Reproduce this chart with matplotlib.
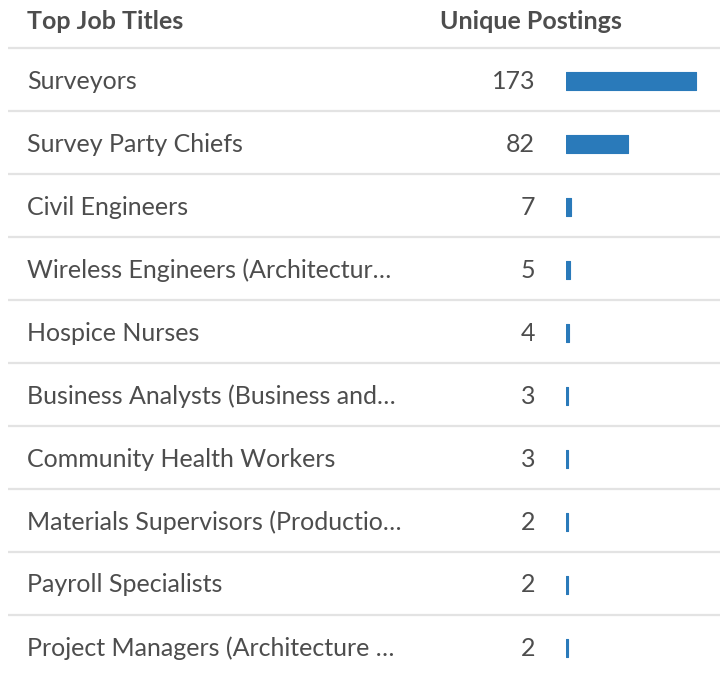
import matplotlib
matplotlib.use("Agg")
import matplotlib.pyplot as plt

titles = [
    "Surveyors",
    "Survey Party Chiefs",
    "Civil Engineers",
    "Wireless Engineers (Architectur\u2026",
    "Hospice Nurses",
    "Business Analysts (Business and\u2026",
    "Community Health Workers",
    "Materials Supervisors (Productio\u2026",
    "Payroll Specialists",
    "Project Managers (Architecture \u2026",
]
postings = [173, 82, 7, 5, 4, 3, 3, 2, 2, 2]
header_left = "Top Job Titles"
header_right = "Unique Postings"

W, H = 720, 677
DPI = 100
plt.rcParams['font.family'] = ['Lato', 'DejaVu Sans']

fig = plt.figure(figsize=(W / DPI, H / DPI), dpi=DPI)

# row index -> pixel centre: y_px = 81 + 63*i
top_i = -81 / 63
bot_i = (H - 81) / 63

ax = fig.add_axes([0, 0, 1, 1])
ax.set_xlim(0, W)
ax.set_ylim(bot_i, top_i)
ax.axis('off')

text_color = '#4d4d4d'
fs = 18

ax.text(27, -0.95, header_left, fontsize=fs, fontweight='bold', color=text_color,
        ha='left', va='center')
ax.text(622, -0.95, header_right, fontsize=fs, fontweight='bold', color=text_color,
        ha='right', va='center')

n = len(titles)
for i, (t, v) in enumerate(zip(titles, postings)):
    ax.text(27, i, t, fontsize=fs, color=text_color, ha='left', va='center')
    ax.text(535, i, str(v), fontsize=fs, color=text_color, ha='right', va='center')
    ax.plot([8, W], [i - 0.53, i - 0.53], color='#e3e3e3', lw=1.6, solid_capstyle='butt')

# bar axes
bx0, bx1 = 566, W
bax = fig.add_axes([bx0 / W, 0, (bx1 - bx0) / W, 1])
bax.set_ylim(bot_i, top_i)
bax.set_xlim(0, max(postings) * (bx1 - bx0) / 130)
bax.axis('off')
bax.barh(range(n), postings, height=0.3, left=0, color='#2a7aba',
         edgecolor='#2a7aba', linewidth=0.8, joinstyle='round')

fig.savefig('out.png', dpi=DPI)
